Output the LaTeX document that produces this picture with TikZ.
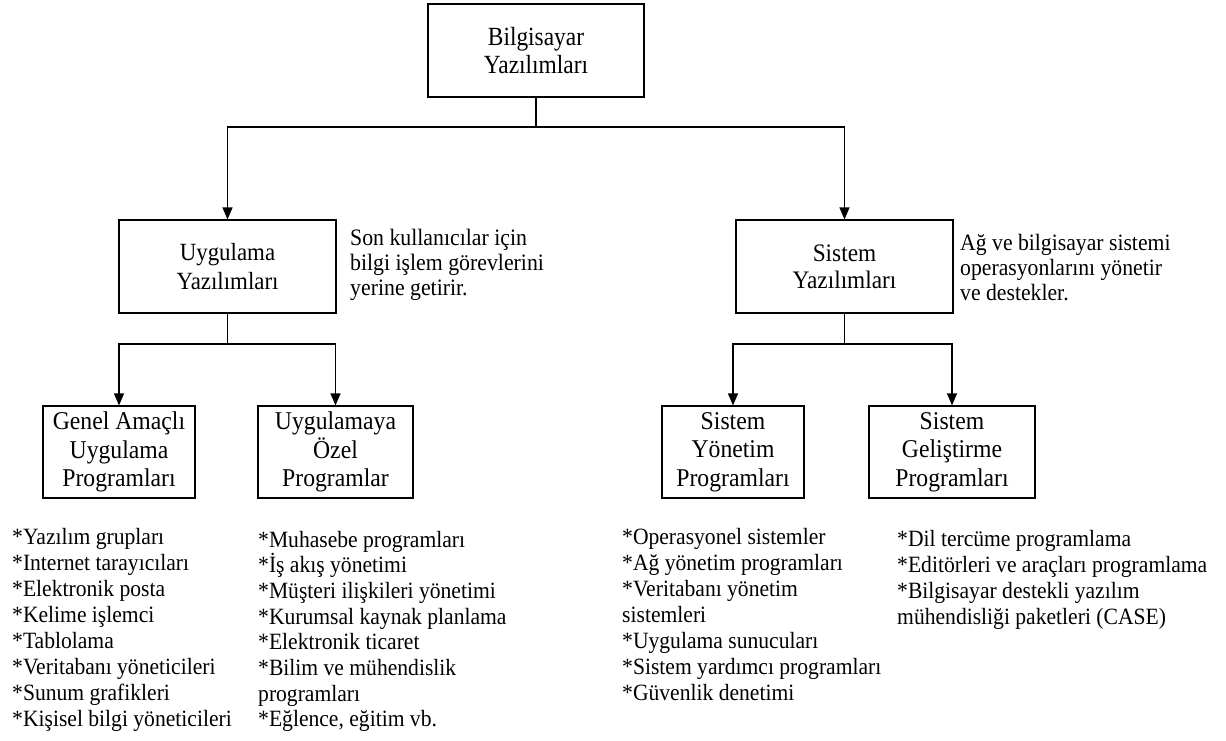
\documentclass[tikz,border=0pt]{standalone}
\usepackage{fontspec}
\usepackage{graphicx}
\setmainfont{Liberation Serif}
\usetikzlibrary{arrows.meta}
% slightly tall lettering: one line, and a centred stack of lines separated by \cr
\newcommand\tallline[1]{\scalebox{1}[1.08]{#1}}
\newcommand\tallstack[2]{\scalebox{1}[#1]{\vbox{\halign{\hfil##\hfil\cr#2\crcr}}}}
\begin{document}
\begin{tikzpicture}[x=1pt,y=-1pt,
  box/.style={draw, line width=1.2pt, inner sep=0pt},
  leaf/.style={box, minimum height=92pt, font=\fontsize{23.7}{26.4}\selectfont},
  link/.style={line width=1.2pt},
  arr/.style={link, -{Triangle[length=12pt,width=10pt]}},
  item/.style={inner sep=0pt, anchor=base west, font=\fontsize{21.6}{26}\selectfont}]
\useasboundingbox (0,0) rectangle (1226,740);

% hierarchy boxes
\node[box, minimum width=216pt, minimum height=93pt, font=\fontsize{23.4}{25}\selectfont]
  (root) at (536,50.5) {\tallstack{1.12}{Bilgisayar\cr Yazılımları}};
\node[box, minimum width=217pt, minimum height=93pt, font=\fontsize{22.9}{26}\selectfont]
  (app) at (227.5,266.5) {\tallstack{1.08}{Uygulama\cr Yazılımları}};
\node[box, minimum width=217pt, minimum height=93pt, font=\fontsize{23.3}{25}\selectfont]
  (sys) at (844.5,266.5) {\tallstack{1.08}{Sistem\cr Yazılımları}};
\node[leaf, minimum width=152pt] (gen)  at (119,452)   {\tallstack{1.08}{Genel Amaçlı\cr Uygulama\cr Programları}};
\node[leaf, minimum width=155pt] (spec) at (335.5,452) {\tallstack{1.08}{Uygulamaya\cr Özel\cr Programlar}};
\node[leaf, minimum width=142pt] (mgmt) at (733,452)   {\tallstack{1.08}{Sistem\cr Yönetim\cr Programları}};
\node[leaf, minimum width=166pt] (dev)  at (952,452)   {\tallstack{1.08}{Sistem\cr Geliştirme\cr Programları}};

% branch points
\coordinate (j1) at (536,127);
\coordinate (j2) at (227.5,344);
\coordinate (j3) at (844.5,344);

% connectors
\draw[link] (root) -- (j1);
\draw[arr] (j1) -| (app);
\draw[arr] (j1) -| (sys);
\draw[link] (app) -- (j2);
\draw[arr] (j2) -| (gen);
\draw[arr] (j2) -| (spec);
\draw[link] (sys) -- (j3);
\draw[arr] (j3) -| (mgmt);
\draw[arr] (j3) -| (dev);

% descriptions beside the second-level boxes
\foreach \t [count=\i from 0] in {{Son kullanıcılar için},{bilgi işlem görevlerini},{yerine getirir.}}
  \node[item, font=\fontsize{21.8}{25}\selectfont] (appd\i) at (350,{245+25*\i}) {\tallline{\t}};
\foreach \t [count=\i from 0] in {{Ağ ve bilgisayar sistemi},{operasyonlarını yönetir},{ve destekler.}}
  \node[item, font=\fontsize{21.7}{25}\selectfont] (sysd\i) at (960,{250+25*\i}) {\tallline{\t}};

% item lists under the leaf boxes
\foreach \t [count=\i from 0] in {{*Yazılım grupları},{*Internet tarayıcıları},{*Elektronik posta},{*Kelime işlemci},{*Tablolama},{*Veritabanı yöneticileri},{*Sunum grafikleri},{*Kişisel bilgi yöneticileri}}
  \node[item] (genl\i) at (12,{544+26*\i}) {\tallline{\t}};
\foreach \t [count=\i from 0] in {{*Muhasebe programları},{*İş akış yönetimi},{*Müşteri ilişkileri yönetimi},{*Kurumsal kaynak planlama},{*Elektronik ticaret},{*Bilim ve mühendislik},{programları},{*Eğlence, eğitim vb.}}
  \node[item] (specl\i) at (258,{547+25.7*\i}) {\tallline{\t}};
\foreach \t [count=\i from 0] in {{*Operasyonel sistemler},{*Ağ yönetim programları},{*Veritabanı yönetim},{sistemleri},{*Uygulama sunucuları},{*Sistem yardımcı programları},{*Güvenlik denetimi}}
  \node[item] (mgmtl\i) at (622,{544+26*\i}) {\tallline{\t}};
\foreach \t [count=\i from 0] in {{*Dil tercüme programlama},{*Editörleri ve araçları programlama},{*Bilgisayar destekli yazılım},{mühendisliği paketleri (CASE)}}
  \node[item] (devl\i) at (897,{546+26.3*\i}) {\tallline{\t}};
\end{tikzpicture}
\end{document}
